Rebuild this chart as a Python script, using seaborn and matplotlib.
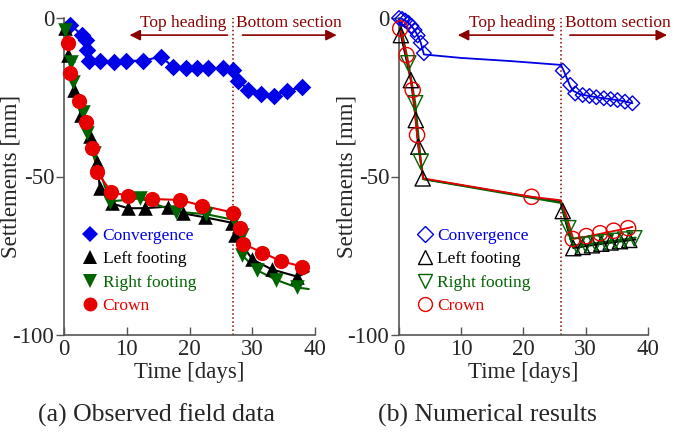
import pandas as pd
import matplotlib
matplotlib.use("Agg")
import matplotlib.pyplot as plt
from matplotlib.lines import Line2D
import seaborn as sns

# (a) observed field data  [days], [mm]
obs_conv_t = [1.0, 2.9, 3.5, 3.6, 4.0, 5.7, 8.0, 9.9, 12.6, 15.4, 17.4, 19.5, 21.2, 23.0, 25.3, 27.0, 27.8, 29.4, 31.4, 33.4, 35.5, 37.9]
obs_conv_s = [-2.2, -5.4, -7.0, -10.0, -13.6, -13.6, -13.8, -13.5, -13.5, -12.2, -15.4, -15.9, -15.9, -15.9, -15.9, -16.4, -19.8, -22.7, -24.1, -24.5, -22.9, -21.9]

obs_left_t = [0.2, 0.7, 1.6, 2.7, 4.1, 5.3, 5.7, 7.6, 10.2, 12.9, 16.6, 18.9, 22.5, 26.8, 27.3, 30.0, 33.1, 37.2]
obs_left_s = [-3.0, -11.7, -22.7, -30.6, -37.2, -45.3, -53.7, -58.5, -60.0, -60.0, -59.5, -61.6, -62.9, -64.6, -68.5, -76.1, -79.3, -81.6]

obs_right_t = [0.2, 1.1, 1.5, 3.1, 3.6, 4.8, 7.3, 12.1, 17.9, 22.7, 27.1, 28.3, 28.4, 30.7, 33.8, 37.1]
obs_right_s = [-3.8, -13.8, -20.1, -29.6, -36.4, -42.7, -57.9, -56.9, -61.1, -61.9, -63.7, -68.5, -74.8, -79.5, -82.6, -85.0]

obs_crown_t = [0.7, 1.0, 2.4, 3.5, 4.5, 5.3, 7.5, 10.2, 14.0, 18.5, 22.0, 27.0, 28.0, 28.6, 31.6, 34.6, 37.9]
obs_crown_s = [-8.0, -17.4, -26.1, -32.9, -40.9, -48.7, -54.8, -56.2, -57.1, -57.4, -59.2, -61.4, -66.4, -71.3, -74.0, -76.7, -78.4]

# end of the fitted curves in (a)
obs_tail_t = 39.0
obs_tail_left = -80.0
obs_tail_right = -85.5
obs_tail_crown = -78.6

# (b) numerical results: curves
num_conv_t = [0, 0.5, 1.0, 1.5, 2.0, 2.5, 3.0, 3.5, 4.0, 10, 18, 26, 26.5, 27, 27.5, 28, 29, 30, 32, 34, 36, 37.5]
num_conv_s = [0, -0.3, -0.8, -1.5, -2.5, -3.8, -5.5, -7.8, -11.5, -12.6, -13.6, -14.8, -16.8, -19.2, -21.5, -23.0, -24.0, -24.4, -25.1, -25.6, -26.2, -26.9]

num_left_t = [0, 0.3, 1.9, 2.7, 3.1, 3.9, 26, 26.3, 27, 28, 30, 32, 34, 36, 38]
num_left_s = [0, -5.4, -19.6, -32.2, -40.6, -50.8, -58.0, -60.9, -66.0, -72.6, -72.0, -71.4, -70.9, -70.4, -69.9]

num_right_t = [0, 1.5, 2.6, 3.5, 3.9, 26, 27.2, 28, 30, 32, 34, 36, 38]
num_right_s = [0, -14.3, -26.9, -45.3, -50.8, -58.3, -66.3, -71.8, -71.4, -70.9, -70.4, -69.9, -69.3]

num_crown_t = [0, 0.2, 1.2, 2.2, 2.9, 3.9, 21.3, 26, 27, 28, 30, 32, 34, 36, 37.5]
num_crown_s = [0, -3.3, -11.7, -22.7, -36.9, -50.6, -56.4, -57.5, -63.0, -69.7, -69.0, -68.2, -67.4, -66.6, -65.9]

# (b) numerical results: markers
mk_conv_t = [0, 0.5, 1.0, 1.5, 2.0, 2.5, 3.0, 3.5, 4.0, 26.3, 27.5, 28.3, 29.5, 30.6, 31.7, 32.9, 34.0, 35.1, 36.3, 37.5]
mk_conv_s = [0, -0.3, -0.8, -1.5, -2.5, -3.8, -5.5, -7.8, -11.1, -16.6, -21.1, -23.8, -24.3, -24.6, -25.0, -25.3, -25.6, -25.9, -26.4, -26.9]

mk_left_t = [0.3, 1.9, 2.7, 3.1, 3.8, 26.3, 28.0, 29.5, 31.0, 32.5, 34.0, 35.5, 37.0]
mk_left_s = [-5.4, -19.6, -32.2, -40.6, -50.6, -60.9, -72.6, -72.2, -71.7, -71.2, -70.8, -70.4, -70.0]

mk_right_t = [1.5, 2.6, 3.5, 27.2, 28.6, 30.0, 31.6, 33.2, 34.8, 36.3, 37.8]
mk_right_s = [-14.3, -26.9, -45.3, -66.3, -71.8, -71.5, -71.1, -70.7, -70.3, -69.9, -69.5]

mk_crown_t = [0.2, 1.2, 2.2, 2.9, 21.3, 27.9, 30.1, 32.3, 34.5, 36.8]
mk_crown_s = [-3.3, -11.7, -22.7, -36.9, -56.4, -69.7, -68.8, -67.9, -67.1, -66.3]

labels = ["Convergence", "Left footing", "Right footing", "Crown"]
colors = ["#0000e6", "#000000", "#006400", "#e60000"]
markers = ["D", "^", "v", "o"]
darkred = "#8b0000"

sns.set_theme(style="white")
plt.rcParams["font.family"] = ["Liberation Serif", "DejaVu Serif"]


def draw_line(ax, t, s, color, lw=1.5):
    df = pd.DataFrame({"t": t, "s": s})
    sns.lineplot(data=df, x="t", y="s", color=color, lw=lw, sort=False,
                 estimator=None, legend=False, ax=ax, zorder=2)


def draw_marks(ax, t, s, color, marker, size, filled):
    df = pd.DataFrame({"t": t, "s": s})
    sns.scatterplot(data=df, x="t", y="s", color=color, marker=marker, s=size,
                    edgecolor=color, linewidth=0 if filled else 1.0,
                    legend=False, ax=ax, zorder=3, clip_on=False)
    if not filled:
        ax.collections[-1].set_facecolor("none")


def style_axes(ax, split_t, top_txt_t, bot_txt_t, top_arrow, bot_arrow):
    ax.set_xlim(0, 40)
    ax.set_ylim(-100, 0)
    ax.set_xticks([0, 10, 20, 30, 40])
    ax.set_yticks([0, -50, -100])
    ax.set_yticklabels(["0", "-50", "-100"])
    for side in ["top", "right"]:
        ax.spines[side].set_visible(False)
    for side in ["left", "bottom"]:
        ax.spines[side].set_color("#555555")
        ax.spines[side].set_linewidth(1.2)
    ax.tick_params(axis="y", direction="out", length=6, width=1, color="#555555",
                   labelsize=16.5, pad=1, left=True)
    ax.tick_params(axis="x", direction="in", length=6, width=1, color="#555555",
                   labelsize=16.5, pad=3, bottom=True)
    ax.set_xlabel("Time [days]", fontsize=16.5)
    ax.set_ylabel("Settlements [mm]", fontsize=16.5)
    ax.xaxis.set_label_coords(0.5, -0.085)
    ax.yaxis.set_label_coords(-0.168, 0.5)
    ax.axvline(split_t, color=darkred, ls=":", lw=1.1, zorder=1)
    ax.text(top_txt_t, -1.6, "Top heading", color=darkred, fontsize=12.5,
            ha="center", va="center")
    ax.text(bot_txt_t, -1.6, "Bottom section", color=darkred, fontsize=12.5,
            ha="center", va="center", clip_on=False)
    arrow = dict(arrowstyle="-|>", color=darkred, lw=1.2, mutation_scale=16)
    ax.annotate("", xy=(top_arrow[1], -5.4), xytext=(top_arrow[0], -5.4),
                arrowprops=arrow, annotation_clip=False)
    ax.annotate("", xy=(bot_arrow[1], -5.4), xytext=(bot_arrow[0], -5.4),
                arrowprops=arrow, annotation_clip=False)
    ax.grid(False)


def add_legend(ax, filled, anchor):
    handles = []
    for c, m in zip(colors, markers):
        handles.append(Line2D([], [], ls="none", marker=m, markersize=10 if m != "D" else 8,
                              markerfacecolor=c if filled else "none",
                              markeredgecolor=c, markeredgewidth=0 if filled else 1.0))
    leg = ax.legend(handles, labels, loc="upper left", bbox_to_anchor=anchor,
                    frameon=False, fontsize=12.5, handlelength=0.8,
                    handletextpad=0.3, labelspacing=0.42, borderaxespad=0)
    for txt, c in zip(leg.get_texts(), colors):
        txt.set_color(c)


fig = plt.figure(figsize=(6.74, 4.37), dpi=100)
ax1 = fig.add_axes([64 / 674, 1 - 335 / 437, 251 / 674, 317 / 437])
ax2 = fig.add_axes([399 / 674, 1 - 335 / 437, 249 / 674, 317 / 437])

# (a) observed
draw_line(ax1, obs_conv_t, obs_conv_s, colors[0])
draw_line(ax1, obs_left_t + [obs_tail_t], obs_left_s + [obs_tail_left], colors[1])
draw_line(ax1, obs_right_t + [obs_tail_t], obs_right_s + [obs_tail_right], colors[2])
draw_line(ax1, obs_crown_t + [obs_tail_t], obs_crown_s + [obs_tail_crown], colors[3])
draw_marks(ax1, obs_conv_t, obs_conv_s, colors[0], "D", 80, True)
draw_marks(ax1, obs_left_t, obs_left_s, colors[1], "^", 110, True)
draw_marks(ax1, obs_right_t, obs_right_s, colors[2], "v", 110, True)
draw_marks(ax1, obs_crown_t, obs_crown_s, colors[3], "o", 120, True)
style_axes(ax1, 27, 19.0, 35.8, (26.5, 10.0), (28.0, 43.9))
add_legend(ax1, True, (0.05, 0.36))

# (b) numerical
draw_line(ax2, num_conv_t, num_conv_s, colors[0], lw=1.3)
draw_line(ax2, num_left_t, num_left_s, colors[1], lw=1.3)
draw_line(ax2, num_right_t, num_right_s, colors[2], lw=1.6)
draw_line(ax2, num_crown_t, num_crown_s, colors[3], lw=1.3)
draw_marks(ax2, mk_conv_t, mk_conv_s, colors[0], "D", 55, False)
draw_marks(ax2, mk_left_t, mk_left_s, colors[1], "^", 120, False)
draw_marks(ax2, mk_right_t, mk_right_s, colors[2], "v", 120, False)
draw_marks(ax2, mk_crown_t, mk_crown_s, colors[3], "o", 120, False)
style_axes(ax2, 26, 18.2, 35.2, (25.2, 9.0), (27.0, 43.5))
add_legend(ax2, False, (0.05, 0.36))

fig.text(157 / 674, 1 - 415 / 437, "(a) Observed field data", fontsize=18.5,
         ha="center", va="center")
fig.text(487 / 674, 1 - 415 / 437, "(b) Numerical results", fontsize=18.5,
         ha="center", va="center")

fig.savefig("out.png", dpi=100)
